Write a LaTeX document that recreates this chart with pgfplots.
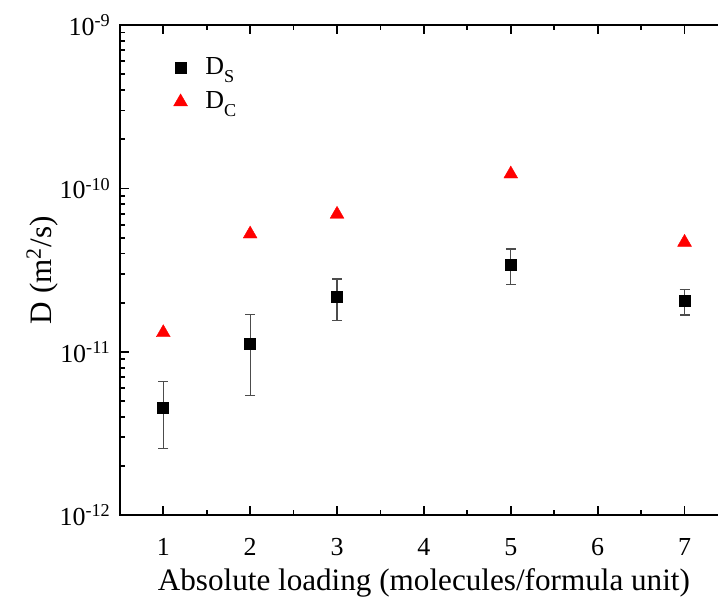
\documentclass[border=0pt]{standalone}
\usepackage{pgfplots}
\pgfplotsset{compat=1.18}
\usepackage{fontspec}
\setmainfont{Liberation Serif}
\begin{document}
\begin{tikzpicture}
\begin{axis}[
  scale only axis,
  width=304.5pt, height=245.5pt,
  xmin=0.5, xmax=7.5,
  ymode=log, ymin=1e-12, ymax=1e-9,
  xtick={1,2,3,4,5,6,7},
  minor x tick num=1,
  ytick={1e-12,1e-11,1e-10,1e-9},
  yticklabels={10\textsuperscript{-12},10\textsuperscript{-11},10\textsuperscript{-10},10\textsuperscript{-9}},
  tick align=inside,
  major tick length=4.5pt,
  minor tick length=2.5pt,
  every tick/.style={black, line width=0.9pt},
  axis line style={line width=1pt},
  tick label style={font=\fontsize{13pt}{15pt}\selectfont},
  xticklabel style={yshift=-8pt},
  yticklabel style={xshift=-1pt},
  /pgf/number format/assume math mode=true,
  xlabel={Absolute loading (molecules/formula unit)},
  ylabel={D (m\textsuperscript{2}/s)},
  label style={font=\fontsize{15.6pt}{18pt}\selectfont},
  xlabel style={yshift=0.5pt},
  ylabel style={yshift=-6pt},
  legend style={draw=none, fill=none, at={(0.078,0.95)}, anchor=north west,
    font=\fontsize{13pt}{15pt}\selectfont, row sep=3pt,
    nodes={inner xsep=9pt}},
  legend cell align=left,
  clip=false,
]
\addplot[only marks, mark=square*, mark size=2.7pt, black,
  error bars/.cd, y dir=both, y explicit,
  error bar style={gray!60!black, line width=0.6pt},
  error mark options={rotate=90, mark size=2.5pt, gray!60!black, line width=0.6pt}]
  table[x=x, y=y, y error plus=ep, y error minus=em] {
  x y ep em
  1 4.55e-12 2.01e-12 1.99e-12
  2 1.12e-11 0.57e-11 0.581e-11
  3 2.18e-11 0.61e-11 0.63e-11
  5 3.42e-11 0.84e-11 0.85e-11
  7 2.04e-11 0.36e-11 0.36e-11
};
\addlegendentry{D\textsubscript{\raisebox{-2pt}{S}}}
\addplot[only marks, mark=triangle*, mark size=4pt, red, mark options={fill=red, draw=red, line width=0.2pt}]
  coordinates {(1,1.31e-11) (2,5.26e-11) (3,6.95e-11) (5,1.225e-10) (7,4.68e-11)};
\addlegendentry{D\textsubscript{\raisebox{-2pt}{C}}}
\coordinate (sw) at (rel axis cs:0,0);
\coordinate (ne) at (rel axis cs:0.9836,1);
\end{axis}
\pgfresetboundingbox
\useasboundingbox ([xshift=-60pt,yshift=-40.5pt]sw) rectangle ([yshift=12.5pt]ne);
\end{tikzpicture}
\end{document}
